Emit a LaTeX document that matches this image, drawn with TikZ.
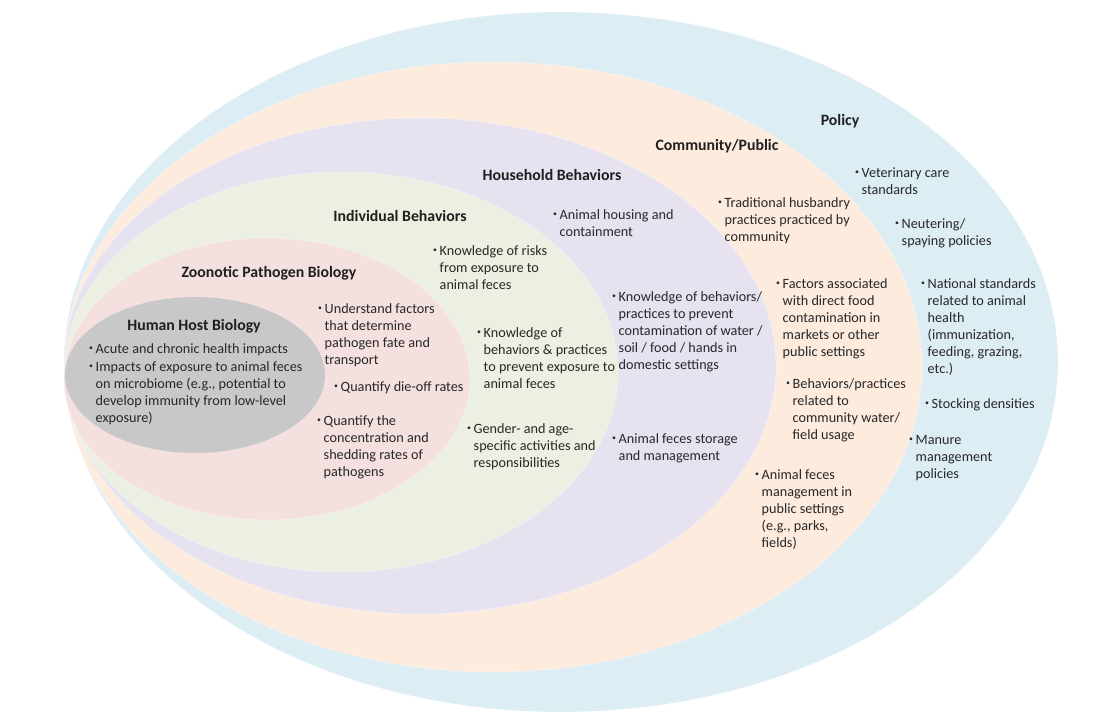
\documentclass[tikz,border=0pt]{standalone}
\usepackage{fontspec}
\usepackage{graphicx}
\setmainfont{Carlito}

\definecolor{policyc}{RGB}{221,237,244}
\definecolor{commc}{RGB}{253,235,222}
\definecolor{househc}{RGB}{231,226,240}
\definecolor{indivc}{RGB}{236,240,226}
\definecolor{zoonc}{RGB}{244,224,223}
\definecolor{hostc}{RGB}{200,200,200}
\definecolor{bodytxt}{RGB}{40,40,40}

% small bullet with hanging continuation lines
\newcommand{\bdot}{\makebox[6.5pt][l]{\raisebox{0.3ex}{\scalebox{0.55}{\textbullet}}}}
\newcommand{\bitem}[1]{\begin{tabular}[t]{@{}l@{}l@{}}\bdot&\begin{tabular}[t]{@{}l@{}}#1\end{tabular}\end{tabular}}

\tikzset{
  layer/.style={draw=white, draw opacity=0.35, line width=0.8pt},
  ttl/.style={font=\fontsize{15.8}{18}\selectfont\bfseries, text=black!88, inner sep=0pt},
  itm/.style={font=\fontsize{14.2}{17}\selectfont, text=bodytxt, inner sep=0pt, anchor=base west},
}

\begin{document}
\begin{tikzpicture}[x=1pt, y=-1pt]
\useasboundingbox (0,0) rectangle (1096,715);

% nested layers, outermost first
\fill[policyc, layer] (561,362) ellipse [x radius=497pt, y radius=350pt];
\fill[commc, layer]   (493,367) ellipse [x radius=429pt, y radius=305pt];
\fill[househc, layer] (420,366) ellipse [x radius=356pt, y radius=248pt];
\fill[indivc, layer]  (341,372) ellipse [x radius=277pt, y radius=200pt];
\fill[zoonc, layer]   (267,379) ellipse [x radius=203pt, y radius=141pt];
\fill[hostc]          (195,375) ellipse [x radius=130pt, y radius=78pt];

% layer titles
\node[ttl] (tpol)  at (840,121) {Policy};
\node[ttl] (tcom)  at (717,146) {Community/Public};
\node[ttl] (thou)  at (552,175) {Household Behaviors};
\node[ttl] (tind)  at (400,216) {Individual Behaviors};
\node[ttl] (tzoo)  at (269,273) {Zoonotic Pathogen Biology};
\node[ttl] (thost) at (194,326) {Human Host Biology};

% human host biology
\node[itm] (h1) at (89,353) {\bitem{Acute and chronic health impacts}};
\node[itm] (h2) at (89,371) {\bitem{Impacts of exposure to animal feces\\on microbiome (e.g., potential to\\develop immunity from low-level\\exposure)}};

% zoonotic pathogen biology
\node[itm] (z1) at (318,313) {\bitem{Understand factors\\that determine\\pathogen fate and\\transport}};
\node[itm] (z2) at (334,391) {\bitem{Quantify die-off rates}};
\node[itm] (z3) at (317,425) {\bitem{Quantify the\\concentration and\\shedding rates of\\pathogens}};

% individual behaviors
\node[itm] (i1) at (433,255) {\bitem{Knowledge of risks\\from exposure to\\animal feces}};
\node[itm] (i2) at (477,337) {\bitem{Knowledge of\\behaviors \& practices\\to prevent exposure to\\animal feces}};
\node[itm] (i3) at (467,433) {\bitem{Gender- and age-\\specific activities and\\responsibilities}};

% household behaviors
\node[itm] (b1) at (553,219) {\bitem{Animal housing and\\containment}};
\node[itm] (b2) at (612,301) {\bitem{Knowledge of behaviors/\\practices to prevent\\contamination of water /\\soil / food / hands in\\domestic settings}};
\node[itm] (b3) at (612,443) {\bitem{Animal feces storage\\and management}};

% community / public
\node[itm] (c1) at (718,207) {\bitem{Traditional husbandry\\practices practiced by\\community}};
\node[itm] (c2) at (776,288) {\bitem{Factors associated\\with direct food\\contamination in\\markets or other\\public settings}};
\node[itm] (c3) at (786,388) {\bitem{Behaviors/practices\\related to\\community water/\\field usage}};
\node[itm] (c4) at (755,479) {\bitem{Animal feces\\management in\\public settings\\(e.g., parks,\\fields)}};

% policy
\node[itm] (p1) at (855,177) {\bitem{Veterinary care\\standards}};
\node[itm] (p2) at (895,228) {\bitem{Neutering/\\spaying policies}};
\node[itm] (p3) at (921,288) {\bitem{National standards\\related to animal\\health\\(immunization,\\feeding, grazing,\\etc.)}};
\node[itm] (p4) at (925,408) {\bitem{Stocking densities}};
\node[itm] (p5) at (909,444) {\bitem{Manure\\management\\policies}};
\end{tikzpicture}
\end{document}
